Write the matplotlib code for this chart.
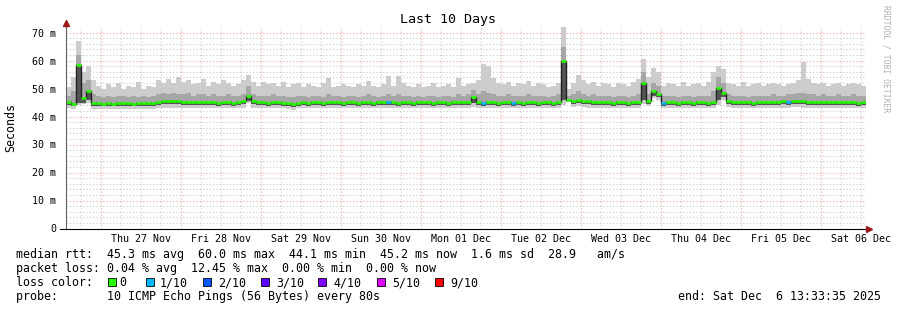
import matplotlib
matplotlib.use("Agg")
import matplotlib.pyplot as plt
import matplotlib.dates as mdates
from matplotlib.lines import Line2D
from matplotlib.patches import Rectangle
from datetime import datetime, timedelta
import numpy as np
import pandas as pd

# ---------------- data (1.5 h steps, 10 days) ----------------
start = datetime(2025, 11, 26, 13, 33, 35)
n_steps = 160
step_hours = 1.5

median = [
    45.3, 44.6, 58.5, 46.5, 49.0, 45.0, 44.7, 44.6, 44.7, 44.6, 44.8, 44.7, 44.9, 44.6, 44.7, 44.8, 44.7, 44.9, 45.2, 45.6,
    45.5, 45.4, 45.4, 45.3, 45.3, 45.2, 45.3, 45.2, 45.1, 45.2, 45.0, 45.1, 45.2, 45.0, 45.1, 45.4, 47.5, 45.6, 45.2, 45.1,
    45.0, 45.1, 45.2, 45.0, 44.9, 44.4, 45.0, 45.1, 45.0, 45.2, 45.1, 45.0, 45.2, 45.3, 45.1, 45.0, 45.2, 45.1, 45.0, 45.2,
    45.1, 45.0, 45.2, 45.1, 45.3, 45.2, 45.0, 45.1, 45.2, 45.0, 45.1, 45.3, 45.2, 45.0, 45.1, 45.2, 45.0, 45.1, 45.2, 45.1,
    45.3, 47.0, 45.2, 45.0, 45.1, 45.2, 45.0, 45.1, 45.2, 45.0, 45.1, 45.0, 45.2, 45.1, 45.0, 45.1, 45.2, 45.0, 45.1, 60.0,
    45.8, 45.5, 46.0, 45.6, 45.4, 45.3, 45.2, 45.1, 45.2, 45.0, 45.1, 45.2, 45.0, 45.1, 45.3, 52.0, 45.5, 49.2, 48.0, 45.0,
    45.1, 45.2, 45.0, 45.1, 45.2, 45.0, 45.1, 45.2, 45.0, 45.1, 50.3, 48.5, 45.5, 45.3, 45.2, 45.1, 45.2, 45.0, 45.1, 45.2,
    45.1, 45.3, 45.2, 45.4, 45.3, 45.5, 45.6, 45.4, 45.3, 45.2, 45.3, 45.2, 45.1, 45.2, 45.3, 45.2, 45.1, 45.2, 45.0, 45.1,
]

ping_max = [
    50.5, 54.0, 67.0, 56.0, 58.0, 53.0, 51.0, 50.0, 51.5, 50.5, 52.0, 50.0, 51.0, 50.5, 52.5, 50.0, 51.0, 50.5, 53.0, 52.0,
    53.5, 52.0, 54.0, 52.5, 53.0, 51.5, 52.0, 53.5, 51.0, 52.5, 51.5, 53.0, 52.0, 51.0, 51.5, 53.0, 55.0, 52.5, 51.0, 52.5,
    51.5, 52.0, 51.0, 52.5, 50.5, 51.5, 52.0, 50.5, 51.5, 51.0, 50.5, 52.0, 53.8, 50.5, 51.0, 51.5, 51.0, 50.5, 51.5, 51.0,
    52.6, 51.0, 50.5, 51.5, 54.5, 51.0, 54.5, 52.0, 51.0, 50.5, 51.5, 50.5, 51.0, 52.0, 50.5, 51.0, 51.5, 50.5, 53.8, 51.0,
    51.5, 52.0, 53.0, 58.7, 58.0, 53.8, 52.0, 51.5, 52.5, 51.0, 52.0, 51.5, 52.6, 51.0, 52.0, 51.5, 50.5, 51.0, 52.0, 72.0,
    50.0, 52.0, 55.0, 53.0, 51.5, 52.5, 51.0, 52.0, 51.5, 50.5, 52.0, 51.5, 51.0, 52.5, 53.5, 60.5, 54.0, 57.5, 56.0, 51.0,
    52.0, 51.5, 51.0, 52.5, 51.0, 51.5, 52.0, 51.0, 52.5, 56.0, 58.0, 57.0, 52.0, 51.5, 51.0, 52.5, 51.0, 51.5, 52.0, 51.0,
    51.5, 52.0, 51.5, 51.0, 51.5, 52.0, 53.0, 59.4, 53.5, 52.0, 51.5, 52.0, 51.0, 51.5, 52.0, 51.0, 51.5, 52.0, 51.5, 51.0,
]

ping_upper = [
    47.5, 49.0, 62.0, 52.0, 53.0, 48.0, 47.5, 47.0, 47.5, 47.0, 47.5, 47.5, 47.0, 47.5, 47.0, 47.5, 47.0, 47.5, 48.0, 48.5,
    48.0, 48.5, 48.0, 48.0, 48.5, 47.5, 48.0, 48.0, 47.5, 48.0, 47.5, 47.5, 48.0, 47.5, 47.5, 48.0, 51.0, 48.0, 47.5, 47.5,
    47.5, 48.0, 47.5, 47.5, 47.0, 47.0, 47.5, 47.5, 47.0, 47.5, 47.5, 47.0, 48.0, 47.5, 47.5, 47.0, 47.5, 47.5, 47.0, 47.5,
    48.0, 47.5, 47.0, 47.5, 48.0, 47.5, 48.0, 47.5, 47.5, 47.0, 47.5, 47.0, 47.5, 47.5, 47.0, 47.5, 47.5, 47.0, 48.0, 47.5,
    48.0, 49.5, 48.0, 49.0, 48.5, 48.0, 47.5, 47.5, 48.0, 47.5, 47.5, 47.5, 48.0, 47.5, 47.5, 47.5, 47.0, 47.5, 48.0, 65.0,
    47.5, 48.0, 49.0, 48.0, 47.5, 48.0, 47.5, 47.5, 47.5, 47.0, 47.5, 47.5, 47.0, 47.5, 48.0, 56.0, 48.0, 52.0, 51.0, 47.5,
    47.5, 47.5, 47.0, 47.5, 47.5, 47.0, 47.5, 47.5, 47.5, 49.0, 54.0, 52.0, 48.0, 47.5, 47.5, 47.5, 47.0, 47.5, 47.5, 47.5,
    47.5, 48.0, 47.5, 47.5, 48.0, 48.0, 48.5, 48.5, 48.0, 48.0, 47.5, 48.0, 47.5, 47.5, 48.0, 47.5, 47.5, 48.0, 47.5, 47.5,
]

ping_lower = [
    44.2, 43.6, 45.0, 45.0, 46.0, 43.8, 43.6, 43.7, 43.6, 43.7, 43.8, 43.6, 43.8, 43.6, 43.7, 43.8, 43.6, 43.8, 44.1, 44.4,
    44.4, 44.3, 44.3, 44.2, 44.2, 44.1, 44.2, 44.1, 44.0, 44.1, 43.9, 44.0, 44.1, 43.9, 44.0, 44.3, 45.5, 44.5, 44.1, 44.0,
    43.9, 44.0, 44.1, 43.9, 43.8, 43.4, 43.9, 44.0, 43.9, 44.1, 44.0, 43.9, 44.1, 44.2, 44.0, 43.9, 44.1, 44.0, 43.9, 44.1,
    44.0, 43.9, 44.1, 44.0, 44.2, 44.1, 43.9, 44.0, 44.1, 43.9, 44.0, 44.2, 44.1, 43.9, 44.0, 44.1, 43.9, 44.0, 44.1, 44.0,
    44.2, 45.0, 44.1, 43.9, 44.0, 44.1, 43.9, 44.0, 44.1, 43.9, 44.0, 43.9, 44.1, 44.0, 43.9, 44.0, 44.1, 43.9, 44.0, 46.0,
    45.5, 44.4, 44.8, 44.5, 44.3, 44.2, 44.1, 44.0, 44.1, 43.9, 44.0, 44.1, 43.9, 44.0, 44.2, 46.0, 44.5, 47.2, 46.8, 43.9,
    44.0, 44.1, 43.9, 44.0, 44.1, 43.9, 44.0, 44.1, 43.9, 44.0, 46.0, 46.8, 44.4, 44.2, 44.1, 44.0, 44.1, 43.9, 44.0, 44.1,
    44.0, 44.2, 44.1, 44.3, 44.2, 44.4, 44.5, 44.3, 44.2, 44.1, 44.2, 44.1, 44.0, 44.1, 44.2, 44.1, 44.0, 44.1, 43.9, 44.0,
]

ping_min = [
    43.0, 42.8, 44.0, 44.5, 45.0, 42.8, 42.6, 42.7, 42.6, 42.8, 42.7, 42.6, 42.8, 42.7, 42.6, 42.8, 42.7, 42.8, 43.0, 43.2,
    43.1, 43.0, 43.2, 43.0, 43.1, 42.9, 43.0, 43.1, 42.9, 43.0, 42.9, 43.0, 43.1, 42.9, 43.0, 43.1, 45.0, 43.2, 43.0, 42.9,
    42.9, 43.0, 43.1, 42.9, 42.8, 42.5, 42.9, 43.0, 42.9, 43.0, 43.0, 42.9, 43.0, 43.1, 42.9, 43.0, 43.1, 42.9, 43.0, 43.0,
    43.0, 42.9, 43.1, 43.0, 43.1, 43.0, 42.9, 43.0, 43.1, 42.9, 43.0, 43.1, 43.0, 42.9, 43.0, 43.1, 42.9, 43.0, 43.1, 43.0,
    43.1, 43.5, 43.0, 42.9, 43.0, 43.1, 42.9, 43.0, 43.1, 42.9, 43.0, 42.9, 43.1, 43.0, 42.9, 43.0, 43.1, 42.9, 43.0, 44.0,
    45.2, 43.5, 43.6, 43.3, 43.1, 43.0, 43.1, 42.9, 43.0, 42.9, 43.0, 43.1, 42.9, 43.0, 43.2, 44.5, 43.8, 46.5, 46.0, 43.0,
    42.9, 43.0, 42.9, 43.0, 43.1, 42.9, 43.0, 43.1, 42.9, 43.0, 44.0, 46.0, 43.3, 43.1, 43.0, 42.9, 43.0, 42.9, 43.0, 43.1,
    43.0, 43.1, 43.0, 43.2, 43.1, 43.3, 43.3, 43.2, 43.1, 43.0, 43.1, 43.0, 42.9, 43.0, 43.1, 43.0, 42.9, 43.0, 42.9, 43.0,
]

# intervals with packet loss (index, lost pings out of 10)
loss_index = [64, 83, 89, 119, 144]
loss_count = [1, 1, 1, 1, 1]

loss_labels = ["0", "1/10", "2/10", "3/10", "4/10", "5/10", "9/10"]
loss_colors = ["#26ff00", "#00b8ff", "#0059ff", "#5e00ff", "#7e00ff", "#dd00ff", "#ff0000"]

day_labels_start = "2025-11-27 12:00"
day_labels_end = "2025-12-06 12:00"

stat_lines = [
    "median rtt:  45.3 ms avg  60.0 ms max  44.1 ms min  45.2 ms now  1.6 ms sd  28.9   am/s",
    "packet loss: 0.04 % avg  12.45 % max  0.00 % min  0.00 % now",
    "loss color:",
    "probe:       10 ICMP Echo Pings (56 Bytes) every 80s",
]
end_text = "end: Sat Dec  6 13:33:35 2025"

# ---------------- figure ----------------
W, H = 897, 310
fig = plt.figure(figsize=(W / 100, H / 100), dpi=100)
fig.patch.set_facecolor("white")


def fx(px):
    return px / W


def fy(py):
    return 1 - py / H


ax = fig.add_axes([66 / W, (H - 228.5) / H, 800 / W, 201.6 / H])
edges = mdates.date2num([start + timedelta(hours=step_hours * k) for k in range(n_steps + 1)])
ax.set_xlim(edges[0], edges[-1])
ax.set_ylim(0, 72)

# grid
grid_times = pd.date_range("2025-11-26 18:00", "2025-12-06 12:00", freq="6h")
for gt in grid_times:
    col = "#f4a0a0" if gt.hour == 0 else "#c8c8c8"
    ax.axvline(mdates.date2num(gt.to_pydatetime()), color=col, lw=0.8,
               ls=(0, (1, 2)), zorder=0)
for v in range(2, 72, 2):
    col = "#f4a0a0" if v % 10 == 0 else "#c8c8c8"
    ax.axhline(v, color=col, lw=0.8, ls=(0, (1, 2)), zorder=0)


def ext(a):
    return np.append(np.asarray(a, float), a[-1])


# smoke
ax.fill_between(edges, ext(ping_min), ext(ping_max), step="post", color="#cccccc", lw=0, zorder=1)
ax.fill_between(edges, ext(ping_lower), ext(ping_upper), step="post", color="#a6a6a6", lw=0, zorder=2)
ax.fill_between(edges, ext(ping_lower), ext(median), step="post", color="#555555", lw=0, zorder=3)

# median
ax.step(edges, ext(median), where="post", color="#202020", lw=1.0, zorder=4)
loss = np.zeros(n_steps, dtype=int)
loss[loss_index] = loss_count
seg_colors = [loss_colors[min(l, 6)] for l in loss]
ax.hlines(median, edges[:-1], edges[1:], colors=seg_colors, lw=1.9, zorder=5)

# axes styling
for s in ax.spines.values():
    s.set_visible(False)
ax.set_facecolor("white")
noons = pd.date_range(day_labels_start, day_labels_end, freq="D")
ax.set_xticks(mdates.date2num(noons.to_pydatetime()))
ax.set_xticklabels([d.strftime("%a %d %b") for d in noons])
yt = list(range(0, 71, 10))
ax.set_yticks(yt)
ax.set_yticklabels(["0"] + [f"{v} m" for v in yt[1:]])
ax.tick_params(axis="both", length=0, labelsize=7.2, colors="#000000")
ax.tick_params(axis="x", pad=4)
ax.tick_params(axis="y", pad=7)
for lab in ax.get_xticklabels() + ax.get_yticklabels():
    lab.set_family("DejaVu Sans Mono")

# axis lines and arrows
fig.add_artist(Line2D([fx(66), fx(66)], [fy(228.5), fy(24)], color="#606060", lw=0.8))
fig.add_artist(Line2D([fx(60), fx(868)], [fy(228.5), fy(228.5)], color="#000000", lw=0.8))
fig.add_artist(Line2D([fx(66)], [fy(23)], marker="^", markersize=4, color="#9b1b1b", lw=0))
fig.add_artist(Line2D([fx(869)], [fy(228.5)], marker=">", markersize=4, color="#9b1b1b", lw=0))

# texts
mono = "DejaVu Sans Mono"
fig.text(fx(448), fy(20), "Last 10 Days", ha="center", va="center", family=mono, fontsize=9.6)
fig.text(fx(11), fy(127), "Seconds", ha="center", va="center", rotation=90, family=mono, fontsize=8.4)
fig.text(fx(886), fy(5), "RRDTOOL / TOBI OETIKER", ha="center", va="top", rotation=-90,
         family=mono, fontsize=5.8, color="#b0b0b0")

rows_y = [254.5, 268.5, 282.5, 296.5]
for line, yy in zip(stat_lines, rows_y):
    fig.text(fx(16), fy(yy), line, ha="left", va="center", family=mono, fontsize=8.4)
fig.text(fx(881), fy(296.5), end_text, ha="right", va="center", family=mono, fontsize=8.4)

sq_x = [108, 146, 203, 261, 318, 377, 435]
lab_x = [119, 160, 218, 276, 333, 392, 450]
for c, lab, sx, lx in zip(loss_colors, loss_labels, sq_x, lab_x):
    fig.add_artist(Rectangle((fx(sx), fy(286)), 8 / W, 8 / H, transform=fig.transFigure,
                             facecolor=c, edgecolor="black", lw=0.6))
    fig.text(fx(lx), fy(282.5), lab, ha="left", va="center", family=mono, fontsize=8.4)

fig.savefig("out.png", dpi=100)
